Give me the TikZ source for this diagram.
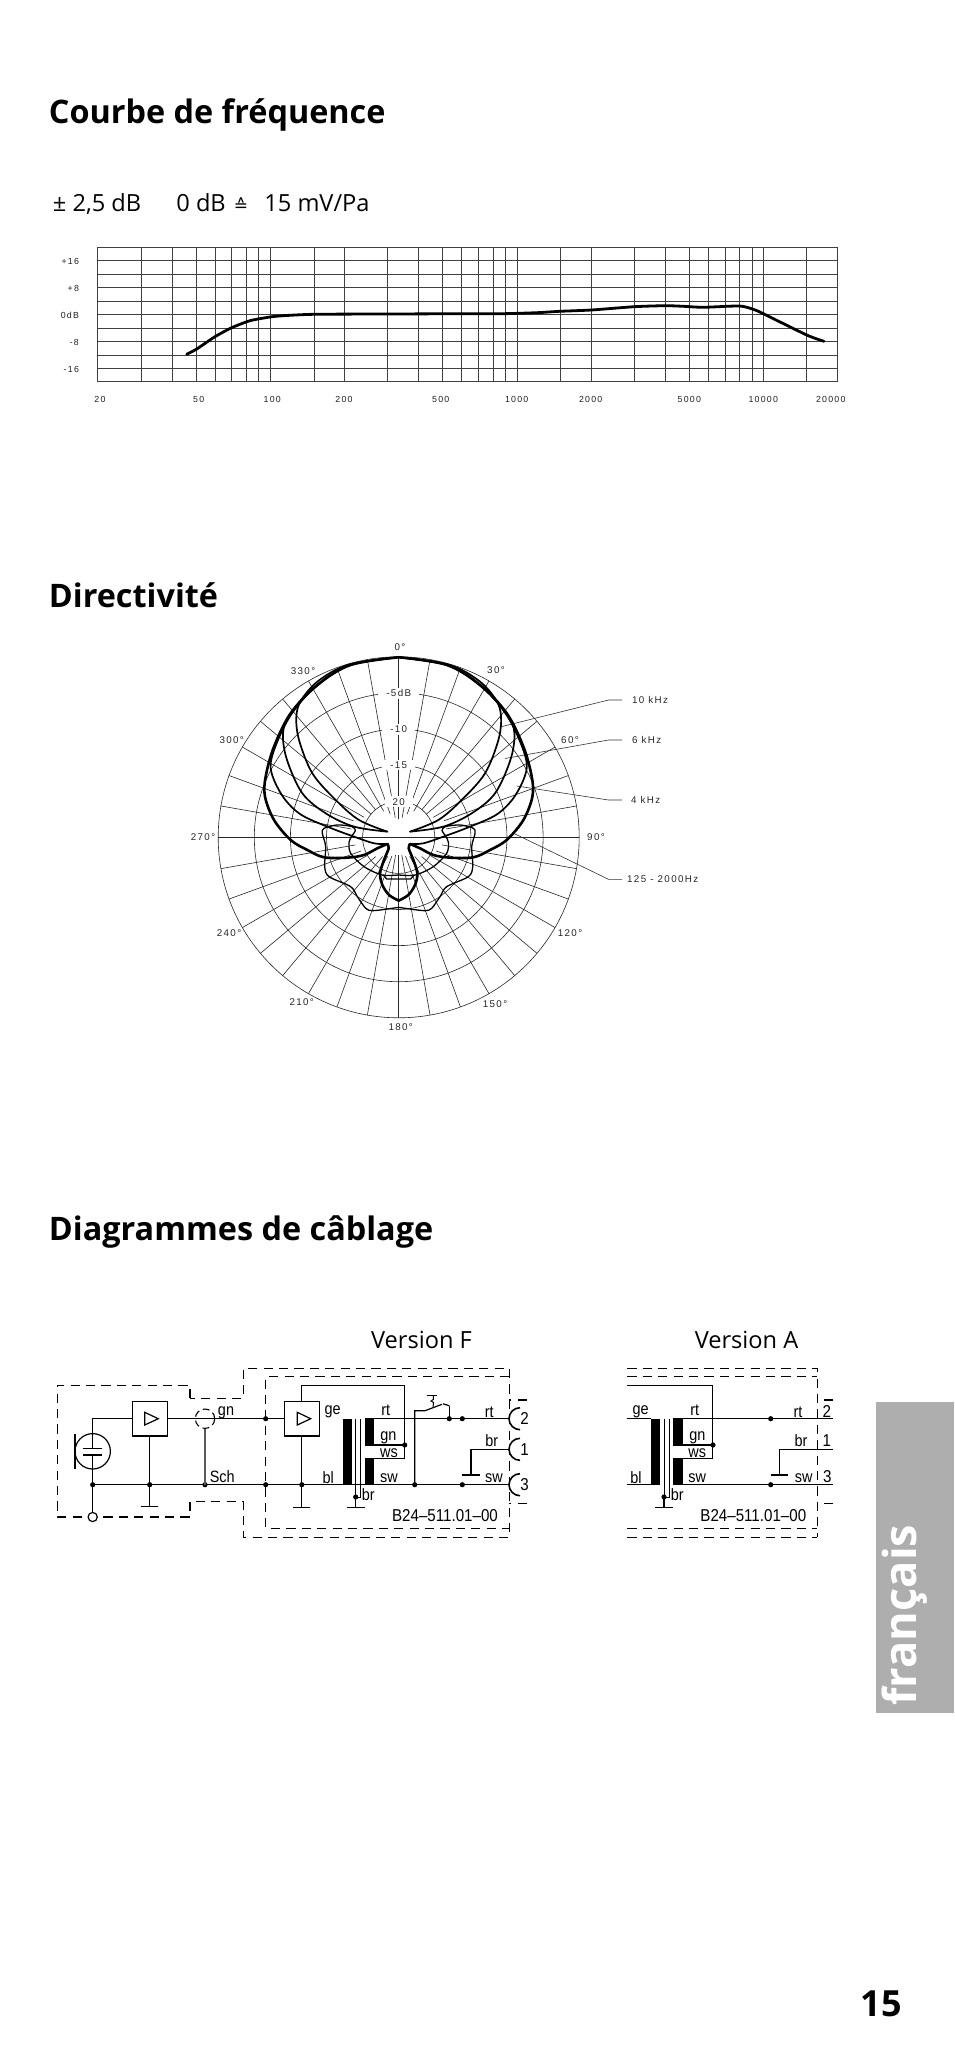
\documentclass[tikz,border=0pt]{standalone}
\usepackage{fontspec}
\setmainfont{Open Sans}
\newfontfamily\labf[FakeStretch=0.88]{Liberation Sans}
\newfontfamily\plabf[LetterSpace=14]{Liberation Sans}
\newfontfamily\djfont{DejaVu Sans}
\usetikzlibrary{calc}
\definecolor{tabgray}{HTML}{AEAEAE}
\tikzset{
 title/.style={anchor=base west,inner sep=0pt,font=\fontsize{16.2}{18}\selectfont\bfseries},
 plain/.style={anchor=base west,inner sep=0pt,font=\fontsize{11.8}{14}\selectfont},
 ticklab/.style={inner sep=0pt,text=black!88,font=\plabf\fontsize{4.4}{5}\selectfont},
 polarlab/.style={inner sep=0pt,text=black!85,font=\plabf\fontsize{4.9}{6}\selectfont},
 grid line/.style={line width=.42pt,black!75},
 polar line/.style={line width=.3pt,black!85},
 leader/.style={line width=.3pt,black!80},
 lobe/.style={line width=.85pt,black},
 lobe thick/.style={line width=1.3pt,black},
 lobe thin/.style={line width=.65pt,black},
 wire/.style={line width=.6pt,black},
 dash box/.style={line width=.55pt,black,dash pattern=on 4.6pt off 3.1pt},
 coil/.style={fill=black,draw=none},
 jdot/.style={circle,fill=black,inner sep=0pt,minimum size=2.6pt},
 slab/.style={inner sep=0pt,font=\labf\fontsize{8.2}{9}\selectfont},
 idlab/.style={inner sep=0pt,font=\labf\fontsize{8.6}{9}\selectfont},
 amp/.style={draw,line width=.6pt,minimum width=17.5pt,minimum height=17.3pt,inner sep=0pt},
}
\begin{document}
\begin{tikzpicture}[x=.5pt,y=-.5pt]
\useasboundingbox (0,0) rectangle (954,2045);
% titles
\node[title] (t1) at (48.5,123) {Courbe de fréquence};
\node[title] (t2) at (48.5,607) {Directivité};
\node[title] (t3) at (48.5,1240) {Diagrammes de câblage};
\node[plain] (p1) at (52.5,211) {± 2,5 dB};
\node[plain] (p2) at (176,211) {0 dB};
\node[anchor=base,inner sep=0pt,font=\djfont\fontsize{8.5}{10}\selectfont] (p3) at (241,211) {≙};
\node[plain] (p4) at (264,211) {15 mV/Pa};
% frequency chart
\foreach \y in {247,260.6,274.3,287.7,301,314.3,328,341.3,355,368.3,381.7}
  \draw[grid line] (97.7,\y) -- (837.7,\y);
\foreach \x in {97.7,141,172,196.3,215.7,231.7,246,258.3,270,314,344.3,387.7,418.3,442.3,461.7,478.7,493,505.7,517,560,591.3,634.3,665.3,689.7,708.7,725,739.3,752.7,763.3,806.7,837.7}
  \draw[grid line] (\x,247) -- (\x,381.7);
\draw[line width=1.4pt,line cap=round,line join=round] plot[smooth,tension=.4] coordinates {(186.7,354.3)(196.7,349)(215,336.7)(231.7,327.7)(250,320.7)(270,317)(283.3,315.7)(314,314.3)(387.7,314)(470,313.7)(503,313.7)(536.7,312.7)(560,311.3)(591.3,310)(634.3,306.7)(665.3,305.7)(683.3,306.3)(703.3,307.3)(739.3,306)(753.3,309.3)(763.3,313.7)(806.7,335)(824,341.3)};
\foreach \n/\t/\y in {a/+16/261,b/+8/288,c/0dB/315,d/-8/342,e/-16/369}
  \node[ticklab,anchor=east] (ly\n) at (79.3,\y) {\t};
\foreach \n/\t/\x in {a/20/100,b/50/198.7,c/100/272.3,d/200/344,e/500/440.7,f/1000/516.7,g/2000/590.7,h/5000/689.3,i/10000/763.3,j/20000/830.7}
  \node[ticklab] (lx\n) at (\x,399.3) {\t};
% polar plot
\begin{scope}[shift={(398.7,837.3)}]
  \foreach \r in {36.1,72.2,108.3,144.4,180.5} \draw[polar line] (0,0) circle (\r);
  \foreach \a/\i in {0/18,10/18,20/20,30/22,40/25,50/30,60/36,70/40,80/44,100/48,110/48,120/40,130/36,140/36,150/30,160/25,170/20,180/18}{
    \draw[polar line] (90-\a:\i) -- (90-\a:180.5);
    \draw[polar line] (90+\a:\i) -- (90+\a:180.5);
  }
  \draw[polar line] (-180.5,0) -- (180.5,0);
\end{scope}
\foreach \n/\t/\y in {a/-5dB/693.3,b/-10/729.3,c/-15/765,d/20/801.7}
  \node[polarlab,fill=white,inner xsep=4pt,inner ysep=1pt] (db\n) at (398.7,\y) {\t};
\foreach \n/\t/\x/\y in {a/0°/400/646.7,b/30°/496/670,c/60°/570/740,d/90°/596/837,e/120°/570/933,f/150°/495/1004,g/180°/400.7/1027,h/210°/301.7/1002,i/240°/229/933,j/270°/203/837,k/300°/231.7/740,l/330°/303/670.7}
  \node[polarlab] (an\n) at (\x,\y) {\t};
% leaders
\coordinate (ld1) at (500,727); \coordinate (ld2) at (505,758.5); \coordinate (ld3) at (516.7,786); \coordinate (ld4) at (513,833);
\foreach \n/\t/\xx/\y/\s in {a/10 kHz/631.7/700/ld1,b/6 kHz/631.7/740/ld2,c/4 kHz/630.7/800/ld3,d/125 - 2000Hz/626.7/879.3/ld4}{
  \node[polarlab,anchor=west] (lg\n) at (\xx,\y) {\t};
  \draw[leader] (\s) -- (608.5,\y) -- (622,\y);
}
\begin{scope}[shift={(398.7,837.3)},x=.1667pt,y=-.1667pt,line join=round,line cap=round]
 \foreach \s in {1,-1}{
 \begin{scope}[xscale=\s]
  % 10 kHz + 6 kHz lobes with common cusp
  \draw[lobe] plot[smooth,tension=.55] coordinates {(0,-540)(150,-518)(240,-470)(292,-412)(307,-362)(299,-292)(259,-192)(189,-112)(119,-52)(34,-17)};
  \draw[lobe] plot[smooth,tension=.55] coordinates {(34,-17)(134,-32)(219,-72)(289,-132)(335,-232)(347,-312)(325,-370)(250,-450)(150,-515)(0,-540)};
  % 4 kHz
  \draw[lobe] plot[smooth,tension=.55] coordinates {(0,-540)(150,-516)(250,-452)(320,-372)(362,-292)(384,-222)(374,-172)(340,-112)(290,-66)(204,-28)(134,-2)(74,18)(34,20)};
  % rear loop
  \draw[lobe thin] plot[smooth,tension=.5] coordinates {(0,113)(50,113)(104,88)(144,48)(149,15)(140,-5)(130,-20)(140,-32)(184,-37)(224,-27)(229,-12)(219,28)(222,88)(209,118)(144,148)(124,178)(99,213)(80,220)(40,216)(0,210)};
  \draw[lobe thin] (0,125) -- (36,125) -- (46,113);
  % 125 - 2000 Hz
  \draw[lobe thick] plot[smooth,tension=.5] coordinates {(0,190)(29,173)(49,143)(56,108)(44,68)(30,33)(34,20)};
  \draw[lobe thick] plot[smooth,tension=.55] coordinates {(34,20)(64,33)(104,53)(154,61)(224,60)(274,38)(324,8)(374,-52)(401,-122)(399,-182)(374,-272)(324,-372)(244,-457)(144,-517)(0,-540)};
 \end{scope}}
\end{scope}
% ---------- Version F
\node[plain,anchor=base] (vf) at (421.5,1348) {Version F};
\draw[dash box] (190,1398.3) -- (190,1385.3) -- (57.3,1385.3) -- (57.3,1517) -- (190,1517) -- (190,1501.7) -- (243.3,1501.7) -- (243.3,1537.3) -- (509.3,1537.3) -- (509.3,1368.3) -- (243.3,1368.3) -- (243.3,1398.3) -- cycle;
\draw[dash box] (509.3,1376.7) -- (265.7,1376.7) -- (265.7,1528.3) -- (509.3,1528.3);
\draw[dash box] (526.7,1400) -- (509.3,1400);
\draw[dash box] (526.7,1503.3) -- (509.3,1503.3);
% microphone
\node[draw,circle,line width=.6pt,minimum size=17.7pt,inner sep=0pt] (mic) at (92.7,1451.3) {};
\draw[line width=1.1pt] (75,1434) -- (75,1469.3);
\coordinate (pl1) at (92.7,1448.3); \coordinate (pl2) at (92.7,1455);
\draw[wire] (83.3,1448.3) -- (102.3,1448.3);
\draw[wire] (83.3,1455) -- (102.3,1455);
\node[draw,circle,fill=white,line width=.6pt,minimum size=4.6pt,inner sep=0pt] (term) at (92.7,1517) {};
\node[amp] (amp1) at (149.7,1418.7) {};
\draw[wire] (144.7,1412.3) -- (158.3,1418.7) -- (144.7,1425) -- cycle;
\node[amp] (amp2) at (301.8,1418.7) {};
\draw[wire] (297.3,1412.3) -- (310.7,1418.7) -- (297.3,1425) -- cycle;
\foreach \n/\x/\y in {j1/92.7/1484.7,j2/149.7/1484.7,j3/205/1484.7,j4/265.7/1484.7,j5/265.7/1418.7,j6/301.8/1484.7,j7/414.7/1484.7,j8/462.3/1484.7,j9/449.3/1418.7,j10/462.3/1418.7,j11/404.7/1445,j12/355.7/1497}
  \node[jdot] (\n) at (\x,\y) {};
\draw[wire] (pl1) |- (amp1.west);
\draw[wire] (pl2) -- (term);
\draw[wire] (amp1.east) -- (j5.center) -- (amp2.west);
\coordinate (g1) at (149.7,1506.7); \coordinate (g2) at (301.8,1507.7); \coordinate (g3) at (355.7,1507.7);
\draw[wire] (amp1.south) -- (g1);
\draw[wire] (140.7,1506.7) -- (158.3,1506.7);
\draw[wire] (amp2.south) -- (g2);
\draw[wire] (293.3,1507.7) -- (310.3,1507.7);
\draw[wire] (j12.center) -- (g3);
\draw[wire] (347.3,1507.7) -- (365,1507.7);
\coordinate (bus) at (509.3,1484.7);
\draw[wire] (j1.center) -- (bus);
\draw[wire,black!65] (205,1428.3) -- (j3.center);
\draw[dash box,dash pattern=on 3.4pt off 2pt] (205,1418.7) circle (9.7);
% transformer F
\fill[coil] (342.7,1418.7) rectangle (352,1484.7);
\fill[coil] (365,1418.7) rectangle (374.3,1445);
\fill[coil] (365,1458.3) rectangle (374.3,1484.7);
\draw[line width=.35pt] (355.3,1418.7) -- (355.3,1497);
\draw[line width=.35pt] (360,1418.7) -- (360,1497) -- (j12.center);
\coordinate (rout) at (509.3,1418.7);
\draw[wire] (365,1418.7) -- (rout);
\draw[wire] (amp2.north) -- (301.8,1385.7) -- (404.7,1385.7) -- (404.7,1458.3) -- (365,1458.3);
\draw[wire] (365,1445) -- (j11.center);
% switch
\draw[wire] (j7.center) -- (414.7,1410.7) -- (425,1410.7) -- (442,1404.3);
\draw[wire] (449.3,1405.7) -- (j9.center);
\draw[wire] (443,1403.8) -- (449.3,1405.7);
\draw[line width=.5pt] (426.7,1395) -- (436.7,1395);
\draw[line width=.5pt] (433.3,1395) -- (433.3,1399.5) -- (431,1401) -- (433.5,1402.5) -- (433,1407);
% connector F
\foreach \n/\y in {c2/1418.7,c1/1449.3,c3/1484.7}{
  \coordinate (\n) at (520,\y);
  \draw[line width=.8pt] ([shift={(90:11)}]\n) arc[start angle=90,end angle=270,radius=11];
}
\coordinate (brl) at (509.3,1449.3);
\draw[wire] (brl) -- (471,1449.3) -- (471,1475);
\draw[wire] (462.3,1475) -- (480,1475);
\foreach \n/\t/\x/\y in {fa/2/524.5/1418.7,fb/1/524.5/1449.3,fc/3/524.5/1484.7}
  \node[idlab] (\n) at (\x,\y) {\t};
\foreach \n/\t/\x/\y in {f1/gn/226/1412.7,f2/Sch/222.3/1477,f3/ge/332.7/1412,f4/bl/328.3/1477.3,f5/rt/385.7/1410.7,f6/gn/388.3/1437.7,f7/ws/389/1452.7,f8/sw/389/1478,f9/br/368.3/1495,f10/rt/489.3/1412.3,f11/br/491.7/1440.7,f12/sw/494/1478}
  \node[slab] (\n) at (\x,\y) {\t};
\node[idlab] (fid) at (445,1515.7) {B24–511.01–00};
% ---------- Version A
\node[plain,anchor=base] (va) at (746.5,1348) {Version A};
\draw[dash box] (627.3,1368.3) -- (817.3,1368.3) -- (817.3,1537.3);
\draw[dash box] (627.3,1537.3) -- (817.3,1537.3);
\draw[dash box] (627.3,1376.7) -- (817.3,1376.7);
\draw[dash box] (627.3,1528.3) -- (817.3,1528.3);
\draw[dash box] (833.3,1400) -- (817.3,1400);
\draw[dash box] (833.3,1503.3) -- (817.3,1503.3);
\fill[coil] (651,1418.7) rectangle (660.3,1484.7);
\fill[coil] (673.3,1418.7) rectangle (682.7,1445);
\fill[coil] (673.3,1458.3) rectangle (682.7,1484.7);
\foreach \n/\x/\y in {a1/770.7/1418.7,a2/770.7/1484.7,a3/713/1445,a4/664/1497}
  \node[jdot] (\n) at (\x,\y) {};
\coordinate (al1) at (626.7,1418.7); \coordinate (al2) at (626.7,1484.7);
\coordinate (ar1) at (833.3,1418.7); \coordinate (ar2) at (833.3,1484.7); \coordinate (ar3) at (833.3,1449.3);
\draw[wire] (al1) -- (651,1418.7);
\draw[wire] (al2) -- (651,1484.7);
\draw[wire] (673.3,1418.7) -- (a1.center) -- (ar1);
\draw[wire] (673.3,1484.7) -- (a2.center) -- (ar2);
\draw[wire] (626.7,1385.7) -- (712.7,1385.7) -- (712.7,1458.3) -- (673.3,1458.3);
\draw[wire] (673.3,1445) -- (a3.center);
\draw[line width=.35pt] (664.3,1418.7) -- (664.3,1497);
\draw[line width=.35pt] (669,1418.7) -- (669,1497) -- (a4.center);
\draw[wire] (a4.center) -- (664,1507.7);
\draw[wire] (655.3,1507.7) -- (673.3,1507.7);
\draw[wire] (ar3) -- (779.3,1449.3) -- (779.3,1475);
\draw[wire] (770.7,1475) -- (788.3,1475);
\foreach \n/\t/\x/\y in {x1/ge/640.7/1412,x2/bl/636/1478,x3/rt/694.7/1410,x4/gn/697.3/1437.7,x5/ws/697.3/1452.7,x6/sw/697.3/1478,x7/br/677.3/1495,x8/rt/798/1412.3,x9/br/801/1440.7,x10/sw/803.7/1478}
  \node[slab] (\n) at (\x,\y) {\t};
\foreach \n/\t/\x/\y in {x11/2/826.7/1411.7,x12/1/826.7/1440.7,x13/3/827.3/1476.7}
  \node[idlab] (\n) at (\x,\y) {\t};
\node[idlab] (aid) at (753.3,1515.7) {B24–511.01–00};
% side tab + page number
\fill[tabgray] (876,1402) rectangle (954,1712.7);
\node[anchor=base west,rotate=90,inner sep=0pt,text=white,font=\fontsize{22.6}{24}\selectfont\bfseries] (fr) at (916,1706) {français};
\node[anchor=base east,inner sep=0pt,font=\fontsize{18}{20}\selectfont\bfseries] (pg) at (902,2016) {15};
\end{tikzpicture}
\end{document}
